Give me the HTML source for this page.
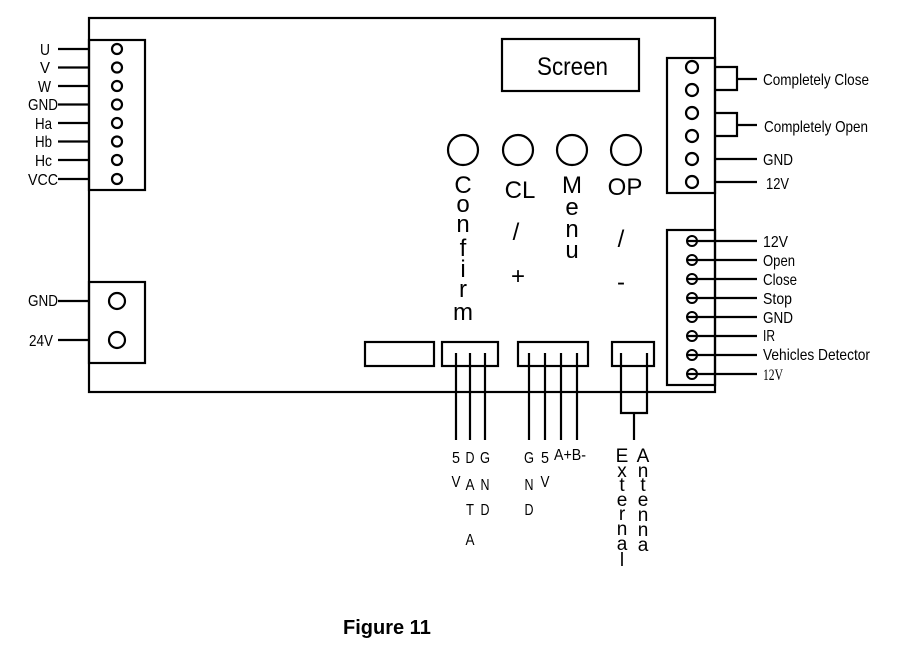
<!DOCTYPE html>
<html><head><meta charset="utf-8"><style>
html,body{margin:0;padding:0;background:#fff;}
svg{display:block;}
text{font-family:"Liberation Sans",Arial,sans-serif;fill:#000;}
.n{font-size:16px;}
</style></head><body>
<svg width="897" height="647" viewBox="0 0 897 647" xmlns="http://www.w3.org/2000/svg">
<g fill="none" stroke="#000" stroke-width="2.2">
<rect x="89" y="18" width="626" height="374"/>
<rect x="89" y="40" width="56" height="150"/>
<circle cx="117" cy="49" r="5"/><circle cx="117" cy="67.5" r="5"/><circle cx="117" cy="86" r="5"/><circle cx="117" cy="104.5" r="5"/>
<circle cx="117" cy="123" r="5"/><circle cx="117" cy="141.5" r="5"/><circle cx="117" cy="160" r="5"/><circle cx="117" cy="179" r="5"/>
<path d="M58 49H89M58 67.5H89M58 86H89M58 104.5H89M58 123H89M58 141.5H89M58 160H89M58 179H89"/>
<rect x="89" y="282" width="56" height="81"/>
<circle cx="117" cy="301" r="8"/><circle cx="117" cy="340" r="8"/>
<path d="M58 301H89M58 340H89"/>
<rect x="502" y="39" width="137" height="52"/>
<circle cx="463" cy="150" r="15"/><circle cx="518" cy="150" r="15"/><circle cx="572" cy="150" r="15"/><circle cx="626" cy="150" r="15"/>
<rect x="667" y="58" width="48" height="135"/>
<circle cx="692" cy="67" r="6"/><circle cx="692" cy="90" r="6"/><circle cx="692" cy="113" r="6"/><circle cx="692" cy="136" r="6"/><circle cx="692" cy="159" r="6"/><circle cx="692" cy="182" r="6"/>
<path d="M715 67H737V90H715M737 79H757M715 113H737V136H715M737 125H757M715 159H757M715 182H757"/>
<rect x="667" y="230" width="48" height="155"/>
<g stroke-width="2">
<circle cx="692" cy="241" r="5"/><circle cx="692" cy="260" r="5"/><circle cx="692" cy="279" r="5"/><circle cx="692" cy="298" r="5"/>
<circle cx="692" cy="317" r="5"/><circle cx="692" cy="336" r="5"/><circle cx="692" cy="355" r="5"/><circle cx="692" cy="374" r="5"/>
</g>
<path d="M687 241H757M687 260H757M687 279H757M687 298H757M687 317H757M687 336H757M687 355H757M687 374H757"/>
<rect x="365" y="342" width="69" height="24"/>
<rect x="442" y="342" width="56" height="24"/>
<rect x="518" y="342" width="70" height="24"/>
<rect x="612" y="342" width="42" height="24"/>
<path d="M456 353V440M470 353V440M485 353V440"/>
<path d="M529 353V440M545 353V440M561 353V440M577 353V440"/>
<path d="M621 353V413H647V353M634 413V440"/>
</g>
<g class="n" text-anchor="end">
<text x="50" y="55" textLength="10" lengthAdjust="spacingAndGlyphs">U</text>
<text x="50" y="73" textLength="10" lengthAdjust="spacingAndGlyphs">V</text>
<text x="51" y="92" textLength="13" lengthAdjust="spacingAndGlyphs">W</text>
<text x="58" y="110" textLength="30" lengthAdjust="spacingAndGlyphs">GND</text>
<text x="52" y="129" textLength="17" lengthAdjust="spacingAndGlyphs">Ha</text>
<text x="52" y="147" textLength="17" lengthAdjust="spacingAndGlyphs">Hb</text>
<text x="52" y="166" textLength="17" lengthAdjust="spacingAndGlyphs">Hc</text>
<text x="58" y="185" textLength="30" lengthAdjust="spacingAndGlyphs">VCC</text>
<text x="58" y="306" textLength="30" lengthAdjust="spacingAndGlyphs">GND</text>
<text x="53" y="346" textLength="24" lengthAdjust="spacingAndGlyphs">24V</text>
</g>
<text x="537" y="75" font-size="25" textLength="71" lengthAdjust="spacingAndGlyphs">Screen</text>
<g class="n">
<text x="763" y="85" textLength="106" lengthAdjust="spacingAndGlyphs">Completely Close</text>
<text x="764" y="132" textLength="104" lengthAdjust="spacingAndGlyphs">Completely Open</text>
<text x="763" y="165" textLength="30" lengthAdjust="spacingAndGlyphs">GND</text>
<text x="766" y="189" textLength="23" lengthAdjust="spacingAndGlyphs">12V</text>
<text x="763" y="247" textLength="25" lengthAdjust="spacingAndGlyphs">12V</text>
<text x="763" y="266" textLength="32" lengthAdjust="spacingAndGlyphs">Open</text>
<text x="763" y="285" textLength="34" lengthAdjust="spacingAndGlyphs">Close</text>
<text x="763" y="304" textLength="29" lengthAdjust="spacingAndGlyphs">Stop</text>
<text x="763" y="323" textLength="30" lengthAdjust="spacingAndGlyphs">GND</text>
<text x="763" y="341" textLength="12" lengthAdjust="spacingAndGlyphs">IR</text>
<text x="763" y="360" textLength="107" lengthAdjust="spacingAndGlyphs">Vehicles Detector</text>
<text x="763" y="380" style="font-family:'Liberation Serif',serif" fill="#444" textLength="20" lengthAdjust="spacingAndGlyphs">12V</text>
</g>
<g font-size="24" text-anchor="middle">
<text x="463" y="193">C</text><text x="463" y="212">o</text><text x="463" y="232">n</text><text x="463" y="256">f</text><text x="463" y="277">i</text><text x="463" y="297">r</text><text x="463" y="320">m</text>
<text x="520" y="198">CL</text><text x="516" y="240">/</text><text x="518" y="284">+</text>
<text x="572" y="193">M</text><text x="572" y="215">e</text><text x="572" y="237">n</text><text x="572" y="258">u</text>
<text x="625" y="195">OP</text><text x="621" y="247">/</text><text x="621" y="290">-</text>
</g>
<g font-size="16" text-anchor="middle">
<text x="456" y="463" textLength="8" lengthAdjust="spacingAndGlyphs">5</text><text x="456" y="487" textLength="9" lengthAdjust="spacingAndGlyphs">V</text>
<text x="470" y="463" textLength="9" lengthAdjust="spacingAndGlyphs">D</text><text x="470" y="490" textLength="9" lengthAdjust="spacingAndGlyphs">A</text><text x="470" y="515" textLength="8" lengthAdjust="spacingAndGlyphs">T</text><text x="470" y="545" textLength="9" lengthAdjust="spacingAndGlyphs">A</text>
<text x="485" y="463" textLength="10" lengthAdjust="spacingAndGlyphs">G</text><text x="485" y="490" textLength="9" lengthAdjust="spacingAndGlyphs">N</text><text x="485" y="515" textLength="9" lengthAdjust="spacingAndGlyphs">D</text>
<text x="529" y="463" textLength="10" lengthAdjust="spacingAndGlyphs">G</text><text x="529" y="490" textLength="9" lengthAdjust="spacingAndGlyphs">N</text><text x="529" y="515" textLength="9" lengthAdjust="spacingAndGlyphs">D</text>
<text x="545" y="463" textLength="8" lengthAdjust="spacingAndGlyphs">5</text><text x="545" y="487" textLength="9" lengthAdjust="spacingAndGlyphs">V</text>
<text x="570" y="460" textLength="32" lengthAdjust="spacingAndGlyphs">A+B-</text>
</g>
<g font-size="19" text-anchor="middle">
<text x="622" y="462">E</text><text x="622" y="477">x</text><text x="622" y="491">t</text><text x="622" y="506">e</text><text x="622" y="520">r</text><text x="622" y="535">n</text><text x="622" y="550">a</text><text x="622" y="566">l</text>
<text x="643" y="462">A</text><text x="643" y="477">n</text><text x="643" y="491">t</text><text x="643" y="506">e</text><text x="643" y="521">n</text><text x="643" y="536">n</text><text x="643" y="551">a</text>
</g>
<text x="343" y="634" font-size="20" font-weight="bold">Figure 11</text>
</svg>
</body></html>
